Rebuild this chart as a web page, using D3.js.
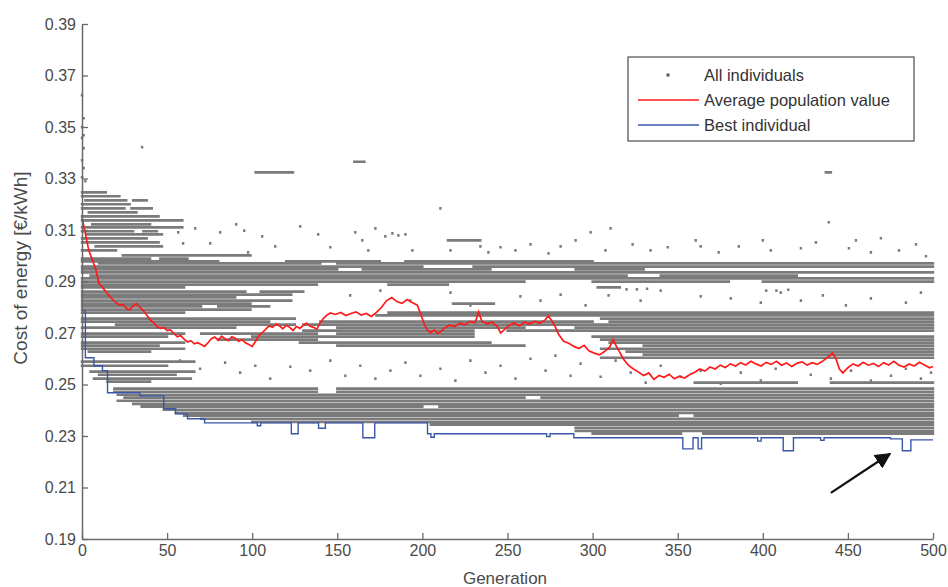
<!DOCTYPE html>
<html>
<head>
<meta charset="utf-8">
<style>
  body { margin: 0; background: #fff; }
  text { font-family: "Liberation Sans", Arial, sans-serif; }
</style>
</head>
<body>
<script src="https://d3js.org/d3.v7.min.js"></script>
<svg id="chart" width="948" height="587"></svg>
<script>
// tick labels
var genTicks = [0, 50, 100, 150, 200, 250, 300, 350, 400, 450, 500];
var costTicks = [0.19, 0.21, 0.23, 0.25, 0.27, 0.29, 0.31, 0.33, 0.35, 0.37, 0.39];

// individuals that keep the same cost over several generations: [cost, firstGen, lastGen]
var streaks = [
  [0.3246, 0, 14], [0.3231, 0, 22], [0.3215, 2, 26], [0.3215, 30, 38],
  [0.3200, 0, 28], [0.3184, 0, 25], [0.3184, 29, 41], [0.3168, 4, 32],
  [0.3153, 0, 45], [0.3137, 0, 59], [0.3122, 6, 40], [0.3110, 0, 59],
  [0.3095, 0, 30], [0.3095, 36, 44], [0.3083, 3, 47], [0.3067, 0, 38],
  [0.3052, 0, 45], [0.3036, 8, 47], [0.3021, 0, 20], [0.3001, 24, 99],
  [0.2989, 0, 40], [0.2989, 46, 62],
  [0.2978, 0, 80], [0.2978, 120, 175], [0.2978, 190, 300],
  [0.2970, 10, 140], [0.2970, 150, 500],
  [0.2958, 0, 200], [0.2958, 230, 500],
  [0.2947, 0, 150], [0.2947, 165, 240], [0.2947, 290, 330],
  [0.2935, 0, 500],
  [0.2923, 5, 320], [0.2923, 340, 420],
  [0.2912, 0, 500],
  [0.2900, 0, 260], [0.2900, 300, 380], [0.2900, 400, 500],
  [0.2888, 0, 138], [0.2888, 180, 215],
  [0.2877, 0, 60], [0.2877, 303, 316],
  [0.2861, 0, 96], [0.2861, 105, 130],
  [0.2849, 0, 123], [0.2838, 0, 90], [0.2826, 0, 123],
  [0.2814, 0, 99], [0.2814, 218, 242],
  [0.2803, 0, 70], [0.2803, 80, 110],
  [0.2791, 0, 99],
  [0.2779, 0, 60], [0.2779, 180, 500],
  [0.2768, 173, 500],
  [0.2756, 0, 125], [0.2756, 305, 500],
  [0.2744, 0, 110], [0.2744, 140, 300], [0.2744, 310, 500],
  [0.2733, 20, 125], [0.2733, 130, 500],
  [0.2721, 0, 90], [0.2721, 150, 260], [0.2721, 290, 500],
  [0.2709, 130, 230], [0.2709, 250, 500],
  [0.2698, 0, 60], [0.2698, 70, 138], [0.2698, 150, 230],
  [0.2686, 0, 50], [0.2686, 100, 230], [0.2686, 300, 500],
  [0.2674, 80, 138], [0.2674, 305, 500],
  [0.2663, 0, 60], [0.2663, 128, 240], [0.2663, 310, 500],
  [0.2651, 0, 45], [0.2651, 150, 260], [0.2651, 330, 500],
  [0.2639, 0, 60], [0.2639, 305, 500],
  [0.2628, 4, 40], [0.2628, 320, 500],
  [0.2616, 330, 500], [0.2604, 305, 500],
  [0.2589, 0, 66], [0.2573, 0, 50], [0.2550, 5, 66], [0.2538, 10, 55],
  [0.2523, 7, 64], [0.2511, 15, 40],
  [0.2507, 360, 420], [0.2507, 440, 500],
  [0.2484, 19, 138], [0.2484, 150, 500],
  [0.2472, 19, 138], [0.2472, 150, 500],
  [0.2460, 21, 500],
  [0.2449, 25, 260], [0.2449, 270, 500],
  [0.2437, 21, 500], [0.2425, 30, 500],
  [0.2414, 35, 200], [0.2414, 210, 500],
  [0.2402, 48, 500], [0.2390, 55, 500],
  [0.2379, 60, 350], [0.2379, 360, 500],
  [0.2367, 70, 500], [0.2355, 100, 500], [0.2344, 205, 500],
  [0.2332, 290, 500], [0.2320, 290, 500],
  [0.2309, 300, 352], [0.2309, 365, 500],
  [0.3060, 215, 234], [0.3324, 102, 124], [0.3365, 160, 166], [0.3324, 437, 440]
];

// isolated individuals: [generation, cost]
var loosePoints = [
  [0, 0.3624], [1, 0.3534], [0, 0.3500], [1, 0.3468], [0, 0.3458], [1, 0.3418],
  [0, 0.3371], [1, 0.3340], [0, 0.3305], [2, 0.3290], [35.3, 0.3422],
  [56.5, 0.3091], [59.4, 0.3048], [66.5, 0.3106], [75.3, 0.3048], [81.2, 0.3091],
  [90.6, 0.3122], [95.3, 0.3098], [97.6, 0.3013], [105.9, 0.3075], [113.5, 0.3036],
  [128.2, 0.3114], [138.8, 0.3083], [145.9, 0.3033], [160.6, 0.3091], [164.7, 0.3060],
  [168.2, 0.3021], [172.4, 0.3106], [178.2, 0.3075], [182.4, 0.3087], [185.9, 0.3079],
  [190, 0.3083], [194.1, 0.3021], [210.6, 0.3184], [216.5, 0.3021], [234.1, 0.3036],
  [238.8, 0.3013], [245.9, 0.3033], [254.7, 0.3021], [263.5, 0.3044], [274.1, 0.3009],
  [281.2, 0.3036], [290, 0.3060], [298.8, 0.3091], [307.6, 0.3021], [310.6, 0.3106],
  [323.5, 0.3044], [334.1, 0.3021], [344.1, 0.3033], [360.6, 0.3060], [363.5, 0.3036],
  [374.1, 0.3013], [385.9, 0.3036], [400, 0.3060], [404.7, 0.3021], [422.4, 0.3029],
  [431.2, 0.3052], [438.8, 0.3130], [450.6, 0.3029], [454.7, 0.3060], [463.5, 0.3013],
  [469.4, 0.3068], [480, 0.3021], [490, 0.3044], [495.9, 0.2998],
  [309.4, 0.2846], [328.2, 0.2826], [340, 0.2865], [363.5, 0.2842], [381.2, 0.2834],
  [398.8, 0.2818], [410.6, 0.2857], [422.4, 0.2826], [435.3, 0.2846], [448.8, 0.2807],
  [463.5, 0.2834], [484.1, 0.2818], [492.9, 0.2857], [157.6, 0.2846], [175.3, 0.2865],
  [192.9, 0.2826], [216.5, 0.2857], [228.2, 0.2807], [257.6, 0.2842], [269.4, 0.2826],
  [281.2, 0.2849], [295.9, 0.2807], [320, 0.2869], [326, 0.2869], [332, 0.2872],
  [402, 0.2865], [408, 0.2865], [415, 0.2868],
  [57.6, 0.2593], [69.4, 0.2561], [84.1, 0.2585], [92.9, 0.2546], [101.8, 0.2573],
  [110.6, 0.2523], [122.4, 0.2569], [134.1, 0.2554], [145.9, 0.2593], [154.7, 0.2534],
  [163.5, 0.2573], [172.4, 0.2523], [181.2, 0.2554], [190, 0.2585], [198.8, 0.2534],
  [210.6, 0.2561], [219.4, 0.2515], [228.2, 0.2593], [237.1, 0.2546], [245.9, 0.2573],
  [254.7, 0.2523], [263.5, 0.2600], [272.4, 0.2554], [278.2, 0.2612], [287.1, 0.2534],
  [292.9, 0.2581], [304.7, 0.2530], [313.5, 0.2593], [322.4, 0.2546], [331.2, 0.2507],
  [340, 0.2573], [351.8, 0.2530], [363.5, 0.2554], [375.3, 0.2503], [387.1, 0.2546],
  [398.8, 0.2515], [407.6, 0.2561], [416.5, 0.2507], [428.2, 0.2538], [440, 0.2523],
  [451.8, 0.2554], [463.5, 0.2515], [475.3, 0.2534], [484.1, 0.2561], [492.9, 0.2523],
  [498.8, 0.2546]
];

// average population value per generation
var avgPopulation = [
  [0, 0.3149], [2, 0.3085], [4, 0.3021], [6, 0.2985], [8, 0.2950], [10, 0.2892],
  [12, 0.2878], [14, 0.2860], [16, 0.2845], [18, 0.2830], [20, 0.2818], [22, 0.2808],
  [24, 0.2812], [26, 0.2796], [28, 0.2790], [30, 0.2805], [32, 0.2814], [34, 0.2800],
  [36, 0.2787], [38, 0.2770], [40, 0.2752], [42, 0.2740], [44, 0.2725], [46, 0.2718],
  [48, 0.2722], [50, 0.2709], [52, 0.2712], [54, 0.2698], [56, 0.2685], [58, 0.2690],
  [60, 0.2676], [62, 0.2665], [64, 0.2670], [66, 0.2658], [68, 0.2662], [70, 0.2655],
  [72, 0.2648], [74, 0.2662], [76, 0.2678], [78, 0.2684], [80, 0.2672], [82, 0.2688],
  [84, 0.2678], [86, 0.2670], [88, 0.2685], [90, 0.2680], [92, 0.2668], [94, 0.2674],
  [96, 0.2662], [98, 0.2655], [100, 0.2648], [102, 0.2668], [104, 0.2690], [106, 0.2702],
  [108, 0.2715], [110, 0.2728], [112, 0.2722], [114, 0.2735], [116, 0.2728], [118, 0.2716],
  [120, 0.2730], [122, 0.2722], [124, 0.2710], [126, 0.2725], [128, 0.2718], [130, 0.2730],
  [132, 0.2738], [134, 0.2726], [136, 0.2722], [138, 0.2715], [140, 0.2740], [142, 0.2758],
  [144, 0.2770], [146, 0.2778], [149, 0.2772], [152, 0.2780], [155, 0.2768], [158, 0.2776],
  [161, 0.2782], [164, 0.2770], [167, 0.2776], [170, 0.2764], [173, 0.2780], [176, 0.2800],
  [179, 0.2826], [182, 0.2838], [185, 0.2822], [188, 0.2815], [191, 0.2830], [194, 0.2818],
  [197, 0.2808], [199, 0.2775], [201, 0.2735], [203, 0.2710], [205, 0.2700], [207, 0.2712],
  [209, 0.2698], [211, 0.2706], [213, 0.2720], [216, 0.2730], [219, 0.2725], [222, 0.2738],
  [225, 0.2732], [228, 0.2745], [231, 0.2740], [233, 0.2782], [235, 0.2745], [238, 0.2736],
  [241, 0.2742], [244, 0.2725], [246, 0.2700], [248, 0.2712], [251, 0.2730], [254, 0.2738],
  [257, 0.2728], [260, 0.2742], [263, 0.2735], [266, 0.2745], [269, 0.2738], [272, 0.2750],
  [274, 0.2766], [276, 0.2748], [278, 0.2725], [280, 0.2695], [283, 0.2668], [286, 0.2660],
  [289, 0.2648], [292, 0.2640], [295, 0.2652], [298, 0.2630], [301, 0.2622], [304, 0.2615],
  [307, 0.2628], [310, 0.2645], [312, 0.2675], [314, 0.2648], [316, 0.2625], [318, 0.2600],
  [321, 0.2575], [324, 0.2560], [327, 0.2548], [330, 0.2535], [333, 0.2545], [336, 0.2520],
  [339, 0.2535], [342, 0.2528], [345, 0.2540], [348, 0.2522], [351, 0.2532], [354, 0.2525],
  [357, 0.2538], [360, 0.2548], [363, 0.2560], [366, 0.2552], [369, 0.2568], [372, 0.2560],
  [375, 0.2575], [378, 0.2566], [381, 0.2580], [384, 0.2572], [387, 0.2585], [390, 0.2576],
  [393, 0.2590], [396, 0.2580], [399, 0.2572], [402, 0.2586], [405, 0.2578], [408, 0.2590],
  [411, 0.2575], [414, 0.2584], [417, 0.2570], [420, 0.2582], [423, 0.2588], [426, 0.2576],
  [429, 0.2585], [432, 0.2578], [435, 0.2590], [438, 0.2605], [441, 0.2622], [443, 0.2600],
  [445, 0.2560], [447, 0.2545], [450, 0.2565], [453, 0.2580], [456, 0.2572], [459, 0.2586],
  [462, 0.2575], [465, 0.2582], [468, 0.2570], [471, 0.2585], [474, 0.2576], [477, 0.2590],
  [480, 0.2575], [483, 0.2568], [486, 0.2580], [489, 0.2572], [492, 0.2586], [495, 0.2576],
  [498, 0.2565], [500, 0.2570]
];

// best individual (value holds until the next entry)
var bestIndividual = [
  [0, 0.2787], [2, 0.2604], [7, 0.2573], [12, 0.2554], [15, 0.2468], [34, 0.2456],
  [48, 0.2406], [55, 0.2386], [62, 0.2367], [72, 0.2351], [103, 0.2340], [105, 0.2351],
  [123, 0.2309], [127, 0.2351], [139, 0.2330], [143, 0.2351], [165, 0.2293], [172, 0.2351],
  [203, 0.2309], [205, 0.2295], [207, 0.2309], [273, 0.2298], [275, 0.2309], [289, 0.2293],
  [353, 0.2250], [359, 0.2293], [362, 0.2250], [364, 0.2293], [397, 0.2280], [399, 0.2293],
  [412, 0.2243], [418, 0.2293], [434, 0.2283], [436, 0.2293], [475, 0.2289], [482, 0.2243],
  [487, 0.2285], [500, 0.2285]
];

// arrow annotation: [generation, cost] tail and head
var arrowFrom = [440, 0.2079];
var arrowTo = [474.7, 0.2231];

var legendItems = ["All individuals", "Average population value", "Best individual"];

var svg = d3.select("#chart");
var x = d3.scaleLinear().domain([0, 500]).range([82, 933]);
var y = d3.scaleLinear().domain([0.19, 0.39]).range([539, 24]);

var dotColor = "#7b7b7b";
var dotW = 2.4, dotH = 2.7;

//all individuals as one path of small squares
function square(g, c) {
  return "M" + (x(g) - dotW / 2).toFixed(1) + "," + (y(c) - dotH / 2).toFixed(1) + "h" + dotW + "v" + dotH + "h-" + dotW + "Z";
}
var d = "";
streaks.forEach(function(s) {
  for (var g = s[1]; g <= s[2]; g++) d += square(g, s[0]);
});
loosePoints.forEach(function(p) { d += square(p[0], p[1]); });
svg.append("path").attr("d", d).attr("fill", dotColor);

// average line
svg.append("path")
  .datum(avgPopulation)
  .attr("fill", "none")
  .attr("stroke", "#ff1a1a")
  .attr("stroke-width", 1.7)
  .attr("d", d3.line().x(function(p) { return x(p[0]); }).y(function(p) { return y(p[1]); }));

// best line
svg.append("path")
  .datum(bestIndividual)
  .attr("fill", "none")
  .attr("stroke", "#3a56a8")
  .attr("stroke-width", 1.4)
  .attr("d", d3.line().curve(d3.curveStepAfter).x(function(p) { return x(p[0]); }).y(function(p) { return y(p[1]); }));

// axes
var xAxis = d3.axisBottom(x).tickValues(genTicks).tickSizeInner(-6).tickSizeOuter(0).tickPadding(6);
var yAxis = d3.axisLeft(y).tickValues(costTicks).tickFormat(d3.format(".2f")).tickSizeInner(-6).tickSizeOuter(0).tickPadding(6);

var gx = svg.append("g").attr("transform", "translate(0,539)").call(xAxis);
var gy = svg.append("g").attr("transform", "translate(82,0)").call(yAxis);
[gx, gy].forEach(function(g) {
  g.select(".domain").attr("stroke", "#6a6a6a").attr("stroke-width", 1.5);
  g.selectAll(".tick line").attr("stroke", "#6a6a6a").attr("stroke-width", 1.3);
  g.selectAll(".tick text").attr("fill", "#4a4a4a").style("font-size", "16px").style("font-family", "'Liberation Sans', Arial, sans-serif");
});

svg.append("text")
  .attr("x", 505).attr("y", 584)
  .attr("text-anchor", "middle")
  .attr("fill", "#4a4a4a")
  .style("font-size", "17px")
  .text("Generation");

svg.append("text")
  .attr("transform", "translate(27,268) rotate(-90)")
  .attr("text-anchor", "middle")
  .attr("fill", "#4a4a4a")
  .style("font-size", "19px")
  .text("Cost of energy [€/kWh]");

// legend
var lg = svg.append("g");
lg.append("rect").attr("x", 628).attr("y", 57).attr("width", 286).attr("height", 84)
  .attr("fill", "#fff").attr("stroke", "#5a5a5a").attr("stroke-width", 1.3);
lg.append("rect").attr("x", 666.5).attr("y", 73.5).attr("width", 3).attr("height", 3).attr("fill", "#555");
lg.append("line").attr("x1", 638).attr("x2", 699).attr("y1", 100).attr("y2", 100).attr("stroke", "#ff1a1a").attr("stroke-width", 1.3);
lg.append("line").attr("x1", 638).attr("x2", 699).attr("y1", 125).attr("y2", 125).attr("stroke", "#3a56a8").attr("stroke-width", 1.3);
lg.selectAll("text.leg").data(legendItems).enter().append("text")
  .attr("class", "leg")
  .attr("x", 704)
  .attr("y", function(t, i) { return 81 + i * 25; })
  .attr("fill", "#333")
  .style("font-size", "16.5px")
  .text(function(t) { return t; });

// arrow
svg.append("defs").append("marker")
  .attr("id", "head").attr("viewBox", "0 0 10 10")
  .attr("refX", 9).attr("refY", 5)
  .attr("markerWidth", 7).attr("markerHeight", 7)
  .attr("orient", "auto")
  .append("path").attr("d", "M0,0L10,5L0,10Z").attr("fill", "#111");
svg.append("line")
  .attr("x1", x(arrowFrom[0])).attr("y1", y(arrowFrom[1]))
  .attr("x2", x(arrowTo[0])).attr("y2", y(arrowTo[1]))
  .attr("stroke", "#111").attr("stroke-width", 2.3)
  .attr("marker-end", "url(#head)");
</script>
</body>
</html>
